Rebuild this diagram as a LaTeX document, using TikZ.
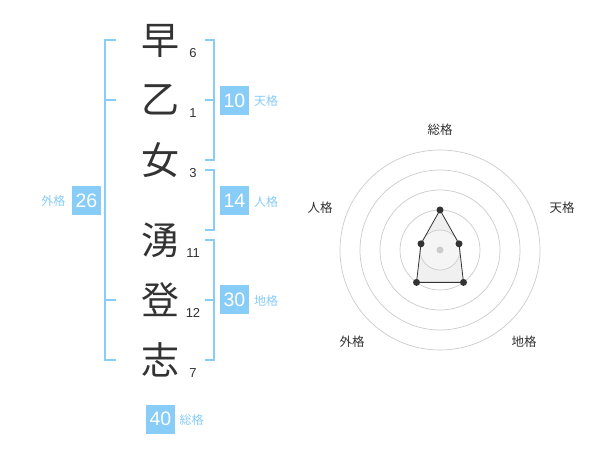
\documentclass[tikz,border=0pt]{standalone}
\usepackage{fontspec}
\setmainfont{Liberation Sans}
\newfontfamily\cjk{Noto Sans CJK JP}
\begin{document}
\begin{tikzpicture}[x=1pt,y=-1pt,
  kanji/.style={font=\cjk\fontsize{38}{38}\selectfont, text=textdark, inner sep=0pt},
  strokes/.style={font=\fontsize{13}{13}\selectfont, text=textdark, inner sep=0pt},
  valbox/.style={fill=boxblue, text=white, minimum size=29pt, inner sep=0pt, font=\fontsize{19.5}{19.5}\selectfont},
  kaku/.style={font=\cjk\fontsize{12}{12}\selectfont, text=lblblue, inner sep=0pt},
  radlbl/.style={font=\cjk\fontsize{12.5}{12.5}\selectfont, text=textdark, inner sep=0pt},
  brk/.style={draw=boxblue, line width=1.8pt},
  ring/.style={draw=ringgray, line width=0.7pt},
  dot/.style={circle, fill=textdark, inner sep=0pt, minimum size=7pt},
]
\definecolor{textdark}{HTML}{333333}
\definecolor{boxblue}{HTML}{88CCF8}
\definecolor{lblblue}{HTML}{88CCF8}
\definecolor{ringgray}{HTML}{CCCCCC}
\useasboundingbox (0,0) rectangle (600,470);
\fill[white] (0,0) rectangle (600,470);

% brackets
\draw[brk] (116,40) -- (105,40) -- (105,360) -- (116,360);
\draw[brk] (105,100) -- (116,100);
\draw[brk] (105,300) -- (116,300);
\draw[brk] (205,40) -- (214,40) -- (214,160) -- (205,160);
\draw[brk] (214,100) -- (205,100);
\draw[brk] (205,170) -- (214,170) -- (214,230) -- (205,230);
\draw[brk] (205,240) -- (214,240) -- (214,360) -- (205,360);
\draw[brk] (214,300) -- (205,300);

% characters
\node[kanji] (c1) at (160,41) {早};
\node[kanji] (c2) at (160,100) {乙};
\node[kanji] (c3) at (160,160) {女};
\node[kanji] (c4) at (160,240) {湧};
\node[kanji] (c5) at (160,300) {登};
\node[kanji] (c6) at (160,360) {志};
\node[strokes] (s1) at (193,53) {6};
\node[strokes] (s2) at (193,113) {1};
\node[strokes] (s3) at (193,173) {3};
\node[strokes] (s4) at (193,253) {11};
\node[strokes] (s5) at (193,313) {12};
\node[strokes] (s6) at (193,373) {7};

% value boxes
\node[valbox] (b10) at (234.5,100.5) {10};
\node[kaku] (l10) at (266,101) {天格};
\node[valbox] (b14) at (234.5,201) {14};
\node[kaku] (l14) at (266,201.5) {人格};
\node[valbox] (b30) at (234.5,300) {30};
\node[kaku] (l30) at (266,300.5) {地格};
\node[valbox] (b26) at (86.5,200.5) {26};
\node[kaku] (l26) at (53.5,201) {外格};
\node[valbox] (b40) at (160.5,419) {40};
\node[kaku] (l40) at (191.5,420) {総格};

% radar
\coordinate (O) at (440,250);
\fill[gray!12] (440,210) -- (459.0,243.8) -- (463.5,282.4) -- (416.5,282.4) -- (421.0,243.8) -- cycle;
\fill[gray!8] (O) circle[radius=20];
\foreach \r in {20,40,60,80,100} \draw[ring] (O) circle[radius=\r];
\draw[textdark, line width=0.8pt] (440,210) -- (459.0,243.8) -- (463.5,282.4) -- (416.5,282.4) -- (421.0,243.8) -- cycle;
\node[dot] (pS) at (440,210) {};
\node[dot] (pT) at (459.0,243.8) {};
\node[dot] (pC) at (463.5,282.4) {};
\node[dot] (pG) at (416.5,282.4) {};
\node[dot] (pJ) at (421.0,243.8) {};
\node[circle, fill=ringgray, inner sep=0pt, minimum size=7pt] (pO) at (O) {};
\node[radlbl] (rS) at (440,130) {総格};
\node[radlbl] (rT) at (562,208) {天格};
\node[radlbl] (rJ) at (320,208) {人格};
\node[radlbl] (rC) at (524,342) {地格};
\node[radlbl] (rG) at (352,342) {外格};
\end{tikzpicture}
\end{document}
